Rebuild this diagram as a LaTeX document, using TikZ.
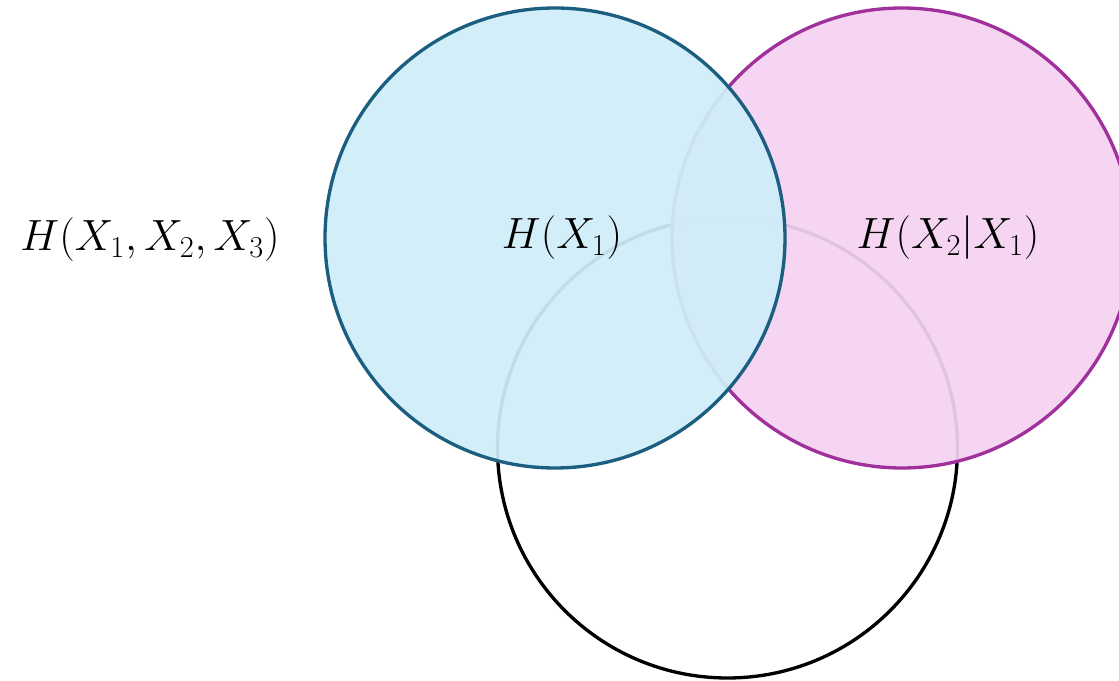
\documentclass[tikz,border=0pt]{standalone}
\usepackage{amsmath,amssymb}
\usepackage{xcolor}
\usepackage{tikz}
\usetikzlibrary{positioning, shapes.geometric}
\definecolor{setblue}{HTML}{1b5e80}
\definecolor{setbluefill}{HTML}{cfeef9}
\definecolor{setpink}{HTML}{a0309c}
\definecolor{setpinkfill}{HTML}{f4d2f0}

\begin{document}
\begin{tikzpicture}[font=\fontsize{25}{30}\selectfont,
 setc/.style={circle, minimum size=9.2cm, inner sep=0pt, line width=1.9pt},
 lbl/.style={inner sep=0pt}]
\useasboundingbox (0,0) rectangle (22.38,13.6);
% three sets
\node[setc, draw=black](x3) at (14.55,4.64){};
\node[setc, draw=setpink, fill=setpinkfill, fill opacity=0.93](x2) at (18.04,8.84){};
\node[setc, draw=setblue, fill=setbluefill, fill opacity=0.93](x1) at (11.10,8.84){};

% labels
\node[lbl](hall) at (3.0,8.8){$H(X_1,X_2,X_3)$};
\node[lbl](h1) at (11.24,8.84){$H(X_1)$};
\node[lbl](h21) at (18.96,8.84){$H(X_2|X_1)$};

\end{tikzpicture}
\end{document}
